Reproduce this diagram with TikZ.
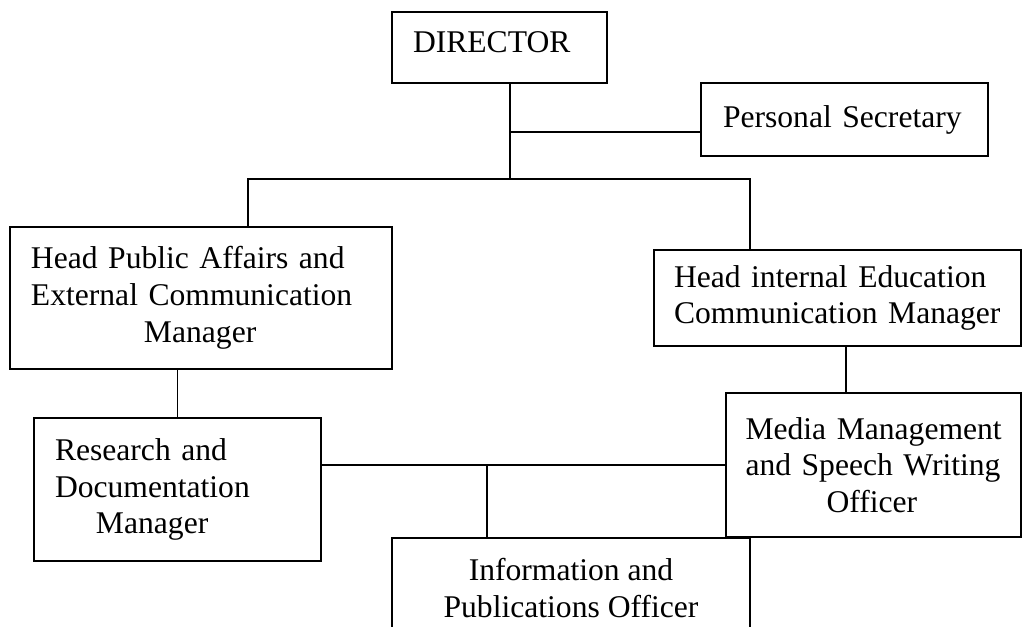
\documentclass[tikz,border=0pt]{standalone}
\usepackage{fontspec}
\setmainfont{Liberation Serif}

\begin{document}
\begin{tikzpicture}[x=0.5pt, y=-0.5pt]
    \tikzstyle{post} = [rectangle, draw, line width=0.9pt, inner xsep=10.5pt, inner ysep=0pt, align=left, font=\fontsize{15.8pt}{18.4pt}\selectfont]
    \tikzstyle{link} = [line width=0.9pt]

    \useasboundingbox (0,0) rectangle (1025,627);
    \clip (0,0) rectangle (1025,627);

    \node (director) [post, text width=86.5pt, minimum height=35.5pt, text depth=5.5pt] at (499.5,47.5) {DIRECTOR};
    \node (secretary) [post, inner xsep=11pt, text width=121.5pt, minimum height=36.5pt] at (844.5,119.5) {\mbox{Personal Secretary}};
    \node (headpub) [post, text width=170pt, minimum height=71pt] at (201,298) {\mbox{Head Public Affairs and}\\\mbox{External Communication}\\\hspace*{56.5pt}Manager};
    \node (headint) [post, inner xsep=10pt, text width=163.5pt, minimum height=48pt] at (837.5,298) {\mbox{Head internal Education}\\\mbox{Communication Manager}};
    \node (research) [post, text width=122.5pt, minimum height=71.5pt] at (177.5,489.5) {\mbox{Research and}\\Documentation\\\hspace*{20.5pt}Manager};
    \node (media) [post, inner xsep=9.75pt, text width=128pt, minimum height=72pt] at (873.5,465) {\mbox{Media Management}\\\mbox{and Speech Writing}\\\hspace*{40.5pt}Officer};
    \node (info) [post, align=center, minimum width=179pt, minimum height=50.5pt, anchor=north] at (571,537) {Information and\\Publications Officer};

    % Joints
    \coordinate (dirjoin) at (510,179);
    \coordinate (secjoin) at (510,132);
    \coordinate (pubjoin) at (248,179);
    \coordinate (intjoin) at (750,179);
    \coordinate (mediajoin) at (846,393);
    \coordinate (infojoin) at (487,465);

    % Lines
    \draw [link] (director.south -| dirjoin) -- (dirjoin);
    \draw [link] (secjoin) -- (secjoin -| secretary.west);
    \draw [link] (pubjoin |- headpub.north) -- (pubjoin) -- (intjoin) -- (intjoin |- headint.north);
    \draw [link] (headpub.south -| research.north) -- (research.north);
    \draw [link] (headint.south -| mediajoin) -- (mediajoin |- media.north);
    \draw [link] (research.east |- media.west) -- (media.west);
    \draw [link] (infojoin) -- (infojoin |- info.north);
\end{tikzpicture}
\end{document}
